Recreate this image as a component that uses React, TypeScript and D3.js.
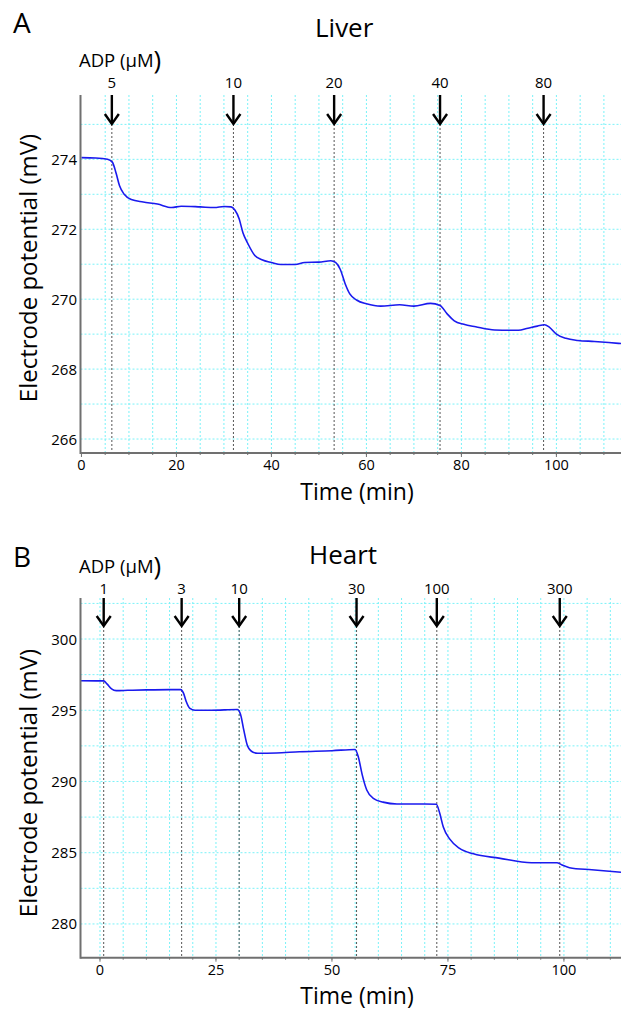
import React from "react";
import * as d3 from "d3";

// ---------- DATA ----------
const liverTime = [0, 3, 5.5, 6.5, 7.3, 8, 9, 10.5, 13, 16, 19, 21, 25, 28, 30, 31.5, 32.3, 33.2, 34, 35, 36.5, 38, 40, 42, 45, 47, 50, 52.5, 53.5, 54.5, 55.5, 56.5, 58, 60, 63, 67, 70, 73.5, 75.5, 77, 78.5, 80.5, 83, 87, 92, 94, 96, 97.5, 98.5, 100, 102, 104.5, 108, 111, 113.6];
const liverMv = [274.05, 274.04, 274.0, 273.92, 273.6, 273.25, 273.0, 272.85, 272.78, 272.72, 272.62, 272.66, 272.64, 272.62, 272.65, 272.64, 272.55, 272.3, 271.9, 271.6, 271.25, 271.13, 271.05, 270.99, 270.99, 271.05, 271.06, 271.1, 271.05, 270.85, 270.45, 270.15, 269.97, 269.87, 269.8, 269.84, 269.8, 269.88, 269.82, 269.58, 269.38, 269.28, 269.21, 269.12, 269.11, 269.17, 269.23, 269.27, 269.2, 269.0, 268.88, 268.82, 268.79, 268.76, 268.73];
const liverAdpTimes = [6.4, 32.0, 53.2, 75.5, 97.3];
const liverAdpLabels = ["5", "10", "20", "40", "80"];
const liverXTicks = [0, 20, 40, 60, 80, 100];
const liverYTicks = [266, 268, 270, 272, 274];

const heartTime = [-4.2, 0.8, 1.5, 2.5, 3.5, 6, 10, 15, 17.4, 18, 18.6, 19.3, 20.5, 24, 29.6, 30.3, 31, 31.8, 33, 34, 38, 43, 50, 55, 55.7, 56.5, 57.5, 59, 61, 64, 70, 72.5, 73.2, 74, 75.4, 77.5, 80.5, 86, 93, 98.5, 99.5, 101.2, 106, 112.3];
const heartMv = [297.07, 297.06, 296.85, 296.5, 296.38, 296.4, 296.43, 296.45, 296.45, 296.2, 295.6, 295.15, 295.0, 295.0, 295.05, 294.7, 293.6, 292.5, 292.05, 291.98, 292.0, 292.09, 292.16, 292.25, 291.7, 290.5, 289.4, 288.8, 288.55, 288.42, 288.42, 288.4, 287.8, 286.8, 285.95, 285.3, 284.92, 284.62, 284.3, 284.3, 284.15, 283.95, 283.8, 283.63];
const heartAdpTimes = [0.8, 17.6, 30.0, 55.3, 72.6, 99.1];
const heartAdpLabels = ["1", "3", "10", "30", "100", "300"];
const heartXTicks = [0, 25, 50, 75, 100];
const heartYTicks = [280, 285, 290, 295, 300];

const FONT = "'Open Sans', 'Noto Sans', sans-serif";
const GRID = "#7af2f8";
const AXIS = "#707070";
const LINE = "#1a1aee";

type PanelProps = {
  letter: string;
  title: string;
  time: number[];
  mv: number[];
  adpTimes: number[];
  adpLabels: string[];
  xTicks: number[];
  yTicks: number[];
  xDomain: [number, number];
  yDomain: [number, number];
  xGridStep: number;
  yGridStep: number;
  top: number;
  bottom: number;
  letterY: number;
  titleX: number;
  titleY: number;
  adpTextY: number;
  labelY: number;
  xLabelY: number;
  yLabelY: number;
  arrowLen: number;
};

function Panel(p: PanelProps) {
  const left = 80.5;
  const right = 621;
  const x = d3.scaleLinear().domain(p.xDomain).range([left, right]);
  const y = d3.scaleLinear().domain(p.yDomain).range([p.bottom, p.top]);
  const pts = p.time.map((t, i) => [t, p.mv[i]] as [number, number]);
  const line = d3
    .line<[number, number]>()
    .x((d) => x(d[0]))
    .y((d) => y(d[1]))
    .curve(d3.curveMonotoneX);

  const vGrid: number[] = [];
  for (let v = Math.ceil(p.xDomain[0] / p.xGridStep) * p.xGridStep; v <= p.xDomain[1]; v += p.xGridStep) {
    if (x(v) > left + 2) vGrid.push(v);
  }
  const hGrid: number[] = [];
  for (let v = Math.ceil(p.yDomain[0] / p.yGridStep) * p.yGridStep; v <= p.yDomain[1]; v += p.yGridStep) {
    if (y(v) < p.bottom - 2 && y(v) > p.top + 2) hGrid.push(v);
  }

  return (
    <g>
      <text x={13} y={p.letterY} fontFamily={FONT} fontSize={28} fill="#000">{p.letter}</text>
      <text x={p.titleX} y={p.titleY} fontFamily={FONT} fontSize={26} fill="#000">{p.title}</text>
      <text x={79} y={p.adpTextY} fontFamily={FONT} fontSize={18.5} fill="#000">
        ADP (μM<tspan fontSize={26} dy={2}>)</tspan>
      </text>

      {/* grid */}
      {vGrid.map((v) => (
        <line key={"vg" + v} x1={x(v)} x2={x(v)} y1={p.top} y2={p.bottom} stroke={GRID} strokeWidth={1} strokeDasharray="2,2" />
      ))}
      {hGrid.map((v) => (
        <line key={"hg" + v} x1={left} x2={right} y1={y(v)} y2={y(v)} stroke={GRID} strokeWidth={1} strokeDasharray="2,2" />
      ))}

      {/* ADP markers */}
      {p.adpTimes.map((t, i) => (
        <g key={"adp" + i}>
          <line x1={x(t)} x2={x(t)} y1={p.top + p.arrowLen} y2={p.bottom} stroke="#555" strokeWidth={1} strokeDasharray="2,2" />
          <line x1={x(t)} x2={x(t)} y1={p.top} y2={p.top + p.arrowLen} stroke="#000" strokeWidth={2.4} />
          <path
            d={`M${x(t) - 7},${p.top + p.arrowLen - 10} L${x(t)},${p.top + p.arrowLen} L${x(t) + 7},${p.top + p.arrowLen - 10}`}
            fill="none"
            stroke="#000"
            strokeWidth={2.4}
          />
          <text x={x(t)} y={p.labelY} textAnchor="middle" fontFamily={FONT} fontSize={15} fill="#000">{p.adpLabels[i]}</text>
        </g>
      ))}

      {/* data line */}
      <path d={line(pts) || ""} fill="none" stroke={LINE} strokeWidth={1.6} />

      {/* axes */}
      <line x1={left} x2={left} y1={p.top} y2={p.bottom + 1} stroke={AXIS} strokeWidth={2} />
      <line x1={left} x2={right} y1={p.bottom} y2={p.bottom} stroke={AXIS} strokeWidth={2} />
      {vGrid.map((v) => (
        <line key={"mt" + v} x1={x(v)} x2={x(v)} y1={p.bottom} y2={p.bottom + 2} stroke={AXIS} strokeWidth={1} />
      ))}
      {p.xTicks.map((v) => (
        <g key={"xt" + v}>
          <line x1={x(v)} x2={x(v)} y1={p.bottom} y2={p.bottom + 4} stroke={AXIS} strokeWidth={1} />
          <text x={x(v)} y={p.bottom + 17} textAnchor="middle" fontFamily={FONT} fontSize={14.5} fill="#000">{v}</text>
        </g>
      ))}
      {p.yTicks.map((v) => (
        <g key={"yt" + v}>
          <text x={77} y={y(v) + 5.5} textAnchor="end" fontFamily={FONT} fontSize={15} fill="#000">{v}</text>
        </g>
      ))}

      <text x={357} y={p.xLabelY} textAnchor="middle" fontFamily={FONT} fontSize={23} fill="#000">Time (min)</text>
      <text
        transform={`translate(37,${p.yLabelY}) rotate(-90)`}
        textAnchor="middle"
        fontFamily={FONT}
        fontSize={24}
        fill="#000"
      >
        Electrode potential (mV)
      </text>
    </g>
  );
}

export default function App() {
  return (
    <svg
      width={621}
      height={1011}
      viewBox="0 0 621 1011"
      style={{ position: "absolute", left: 0, top: 0, background: "#fff" }}
    >
      <rect x={0} y={0} width={621} height={1011} fill="#fff" />
      <Panel
        letter="A"
        title="Liver"
        time={liverTime}
        mv={liverMv}
        adpTimes={liverAdpTimes}
        adpLabels={liverAdpLabels}
        xTicks={liverXTicks}
        yTicks={liverYTicks}
        xDomain={[-0.2, 113.6]}
        yDomain={[265.6, 275.84]}
        xGridStep={5}
        yGridStep={1}
        top={95}
        bottom={453}
        letterY={33}
        titleX={315}
        titleY={37}
        adpTextY={67}
        labelY={88}
        xLabelY={500}
        yLabelY={268}
        arrowLen={29}
      />
      <Panel
        letter="B"
        title="Heart"
        time={heartTime}
        mv={heartMv}
        adpTimes={heartAdpTimes}
        adpLabels={heartAdpLabels}
        xTicks={heartXTicks}
        yTicks={heartYTicks}
        xDomain={[-4.2, 112.3]}
        yDomain={[277.63, 302.88]}
        xGridStep={5}
        yGridStep={2.5}
        top={598}
        bottom={957.7}
        letterY={567}
        titleX={309}
        titleY={564}
        adpTextY={573}
        labelY={594}
        xLabelY={1003.5}
        yLabelY={783}
        arrowLen={28}
      />
    </svg>
  );
}
